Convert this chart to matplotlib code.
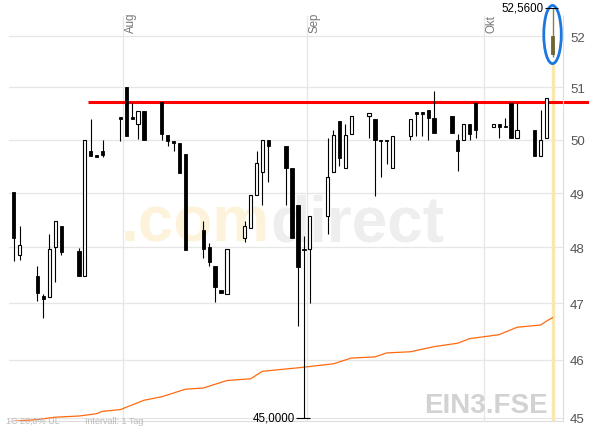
import numpy as np
import pandas as pd
import matplotlib
matplotlib.use('Agg')
import matplotlib.pyplot as plt
import matplotlib.dates as mdates
from matplotlib.patches import Ellipse
from matplotlib.ticker import NullLocator, FixedLocator, FixedFormatter
from matplotlib.transforms import IdentityTransform, blended_transform_factory

plt.rcParams['font.family'] = ['Liberation Sans', 'DejaVu Sans']

'''
Daily candles (EIN3.FSE), read off the picture
'''
dates = ['2006-07-13', '2006-07-14', '2006-07-17', '2006-07-18', '2006-07-19', '2006-07-20', '2006-07-21',
         '2006-07-24', '2006-07-25', '2006-07-26', '2006-07-27', '2006-07-28', '2006-07-31',
         '2006-08-01', '2006-08-02', '2006-08-03', '2006-08-04', '2006-08-07', '2006-08-08', '2006-08-09',
         '2006-08-10', '2006-08-11', '2006-08-14', '2006-08-15', '2006-08-16', '2006-08-17', '2006-08-18',
         '2006-08-21', '2006-08-22', '2006-08-23', '2006-08-24', '2006-08-25', '2006-08-28', '2006-08-29',
         '2006-08-30', '2006-08-31', '2006-09-01', '2006-09-04', '2006-09-05', '2006-09-06', '2006-09-07',
         '2006-09-08', '2006-09-11', '2006-09-12', '2006-09-13', '2006-09-14', '2006-09-15', '2006-09-18',
         '2006-09-19', '2006-09-20', '2006-09-21', '2006-09-22', '2006-09-25', '2006-09-26', '2006-09-27',
         '2006-09-28', '2006-09-29', '2006-10-02', '2006-10-03', '2006-10-04', '2006-10-05', '2006-10-06',
         '2006-10-09', '2006-10-10', '2006-10-11', '2006-10-12']
opens = [49.02, 47.87, 47.49, 47.12, 47.10, 48.00, 48.39,
         47.93, 47.48, 49.79, 49.72, 49.79, 50.44,
         51.00, 50.44, 50.29, 50.54, 50.72, 50.09, 49.98,
         49.94, 49.73, 48.31, 48.00, 47.67, 47.23, 47.16,
         48.18, 48.36, 48.97, 49.39, 50.00, 49.89, 49.47,
         48.77, 47.98, 47.98, 48.57, 49.39, 50.35, 49.47,
         50.11, 50.45, 50.40, 50.00, 50.00, 49.47, 50.07,
         50.53, 50.53, 50.56, 50.42, 50.45, 50.00, 50.00,
         50.29, 50.71, 50.24, 50.29, 50.27, 50.71, 50.03,
         50.19, 49.70, 50.03, 52.00]
highs = [49.02, 48.39, 47.67, 47.16, 48.24, 48.48, 48.39,
         47.99, 50.00, 50.40, 49.72, 50.00, 50.44,
         51.00, 50.70, 50.54, 50.54, 50.72, 50.09, 49.98,
         49.94, 49.73, 48.48, 48.09, 47.67, 47.23, 47.98,
         48.48, 48.97, 49.79, 50.00, 50.00, 49.89, 49.47,
         48.77, 48.20, 48.57, 50.03, 50.19, 50.35, 50.29,
         50.45, 50.51, 50.40, 50.00, 50.00, 50.07, 50.40,
         50.53, 50.53, 50.56, 50.94, 50.45, 50.10, 50.29,
         50.29, 50.71, 50.29, 50.29, 50.42, 50.71, 50.71,
         50.19, 50.56, 50.80, 52.56]
lows = [47.75, 47.77, 47.04, 46.73, 47.10, 47.37, 47.87,
        47.48, 47.48, 49.70, 49.68, 49.68, 49.98,
        50.08, 50.40, 50.01, 50.00, 50.00, 49.88, 49.78,
        49.38, 47.95, 47.80, 47.67, 47.02, 47.18, 47.16,
        48.10, 48.36, 48.97, 48.77, 49.20, 48.77, 48.18,
        46.60, 45.00, 47.00, 48.25, 49.39, 49.50, 49.47,
        50.11, 50.03, 48.94, 49.30, 49.55, 49.47, 49.99,
        50.08, 50.08, 49.99, 50.12, 50.12, 49.42, 50.00,
        50.00, 50.03, 50.24, 50.03, 50.24, 50.03, 50.03,
        49.70, 49.70, 50.03, 51.59]
closes = [48.18, 48.04, 47.17, 47.07, 47.98, 48.48, 47.92,
          47.48, 50.00, 49.70, 49.68, 49.72, 50.40,
          50.08, 50.40, 50.54, 50.00, 50.11, 49.97, 49.93,
          49.38, 47.95, 47.98, 47.74, 47.28, 47.18, 47.98,
          48.39, 48.97, 49.57, 50.00, 49.88, 49.47, 48.18,
          47.64, 47.95, 48.57, 49.30, 50.09, 49.66, 50.09,
          50.45, 50.51, 49.99, 49.97, 49.97, 50.07, 50.40,
          50.49, 50.49, 50.41, 50.12, 50.12, 49.79, 50.29,
          50.10, 50.19, 50.29, 50.25, 50.24, 50.03, 50.19,
          49.70, 50.00, 50.80, 51.65]

# moving average (orange line)
ma_dates = ['2006-07-13', '2006-07-17', '2006-07-20', '2006-07-24', '2006-07-27', '2006-07-28', '2006-07-31',
            '2006-08-04', '2006-08-07', '2006-08-11', '2006-08-14', '2006-08-18', '2006-08-22', '2006-08-24',
            '2006-08-28', '2006-08-30', '2006-09-05', '2006-09-08', '2006-09-12', '2006-09-14', '2006-09-18',
            '2006-09-22', '2006-09-26', '2006-09-28', '2006-10-03', '2006-10-06', '2006-10-10', '2006-10-11',
            '2006-10-12']
ma_vals = [44.94, 44.97, 45.01, 45.03, 45.07, 45.11, 45.14,
           45.30, 45.36, 45.49, 45.51, 45.64, 45.67, 45.80,
           45.84, 45.86, 45.93, 46.03, 46.05, 46.12, 46.14,
           46.23, 46.29, 46.37, 46.44, 46.57, 46.61, 46.68,
           46.74]

resistance = 50.72
resistance_from = '2006-07-26'
months = ['2006-08-01', '2006-09-01', '2006-10-01']
month_labels = ['Aug', 'Sep', 'Okt']
yticks = [45, 46, 47, 48, 49, 50, 51, 52]
ytick_labels = [str(v) for v in yticks]


'''
Plot
'''
W, H = 589, 427
fig = plt.figure(figsize=(W / 100, H / 100), dpi=100)
ax = fig.add_axes([9 / W, 1 - 422.3 / H, (563 - 9) / W, (422.3 - 17) / H])
ax.patch.set_visible(False)

x = mdates.date2num(pd.to_datetime(dates)) + 0.5
o, h, l, c = map(np.array, (opens, highs, lows, closes))
aug1 = mdates.date2num(pd.Timestamp(months[0]))

ax.set_yscale('log')
ax.set_xlim(aug1 - 19.31, aug1 + 74.27)
ax.set_ylim(44.94, 52.40)

grid_col = '#E6E6E6'
ax.yaxis.set_major_locator(FixedLocator(yticks))
ax.yaxis.set_major_formatter(FixedFormatter(ytick_labels))
ax.yaxis.set_minor_locator(NullLocator())
ax.yaxis.tick_right()
ax.tick_params(axis='y', length=0, pad=5, labelsize=9.5, labelcolor='#555555')
ax.set_xticks([])
ax.grid(axis='y', color=grid_col, lw=0.9)
ax.set_axisbelow(True)
for side in ['top', 'left']:
    ax.spines[side].set_visible(False)
for side in ['right', 'bottom']:
    ax.spines[side].set_color('#DDDDDD')
    ax.spines[side].set_linewidth(0.8)

# month lines and rotated labels
trans = blended_transform_factory(ax.transData, ax.transAxes)
for m, lab in zip(months, month_labels):
    mx = mdates.date2num(pd.Timestamp(m))
    ax.axvline(mx, color=grid_col, lw=0.9, zorder=0.5)
    ax.text(mx + 0.25, 0.9605, lab, transform=trans, rotation=90, ha='left', va='bottom',
            fontsize=8.3, color='#777777')

# highlight of the current day
ax.axvline(x[-1], color='#F8E8B0', lw=2.4, zorder=1)

# moving average
xm = mdates.date2num(pd.to_datetime(ma_dates)) + 0.5
ax.plot(xm, ma_vals, color='#FF6A10', lw=0.9, zorder=2)

# resistance line
x_end = ax.transData.inverted().transform((W, 0))[0]
ax.hlines(resistance, mdates.date2num(pd.Timestamp(resistance_from)), x_end,
          color='#FF0000', lw=2.2, zorder=2.5, clip_on=False)

# candles
body_w = 0.55
n = len(x) - 1
ax.vlines(x[:n], l[:n], h[:n], color='black', lw=0.8, zorder=3)
down = c[:n] < o[:n]
bottoms = np.minimum(o[:n], c[:n])
heights = np.maximum(np.abs(c[:n] - o[:n]), 0.02)
ax.bar(x[:n][down], heights[down], bottom=bottoms[down], width=body_w,
       facecolor='black', edgecolor='black', lw=0.6, zorder=4)
ax.bar(x[:n][~down], heights[~down], bottom=bottoms[~down], width=body_w,
       facecolor='white', edgecolor='black', lw=0.8, zorder=4)

# circled last candle
fig.canvas.draw()
px_top = ax.transData.transform((x[-1], h[-1]))
px_bot = ax.transData.transform((x[-1], l[-1]))
ell_h = (px_top[1] - px_bot[1]) + 9
ell = Ellipse((px_top[0], (px_top[1] + px_bot[1]) / 2 - 2), 17.5, ell_h, transform=IdentityTransform(),
              facecolor='white', edgecolor='#1C78E0', lw=2.0, zorder=3.5, clip_on=False)
ax.add_artist(ell)
ax.vlines(x[-1], l[-1], h[-1], color='#8C7F45', lw=1.0, zorder=5, clip_on=False)
ax.bar(x[-1], o[-1] - c[-1], bottom=c[-1], width=body_w, facecolor='#6E6434',
       edgecolor='#6E6434', lw=0.6, zorder=5, clip_on=False)

# high / low markers
for i, val in [(int(np.argmax(h)), h.max()), (int(np.argmin(l)), l.min())]:
    ax.hlines(val, x[i] - 1.3, x[i] + 1.0, color='black', lw=0.8, zorder=5, clip_on=False)
    ax.text(x[i] - 1.5, val, f'{val:.4f}'.replace('.', ','), ha='right', va='center',
            fontsize=8.3, color='black', clip_on=False, zorder=5)

# watermarks
ft = fig.transFigure
ax.text(270 / W, 1 - 242 / H, '.com', transform=ft, ha='right', va='baseline',
        fontsize=46, fontweight='bold', color='#FDF3DA', zorder=0.8)
ax.text(270 / W, 1 - 242 / H, 'direct', transform=ft, ha='left', va='baseline',
        fontsize=46, fontweight='bold', color='#EEEEEE', zorder=0.8)
ax.text(548 / W, 1 - 413 / H, 'EIN3.FSE', transform=ft, ha='right', va='baseline',
        fontsize=20, fontweight='bold', color='#D2D2D2', zorder=0.8)
ax.text(6 / W, 1 / H, '1C 20,0% UL', transform=ft, ha='left', va='bottom',
        fontsize=6.5, color='#BBBBBB')
ax.text(85 / W, 1 / H, 'Intervall: 1 Tag', transform=ft, ha='left', va='bottom',
        fontsize=6.5, color='#BBBBBB')

plt.savefig('out.png', dpi=100)
